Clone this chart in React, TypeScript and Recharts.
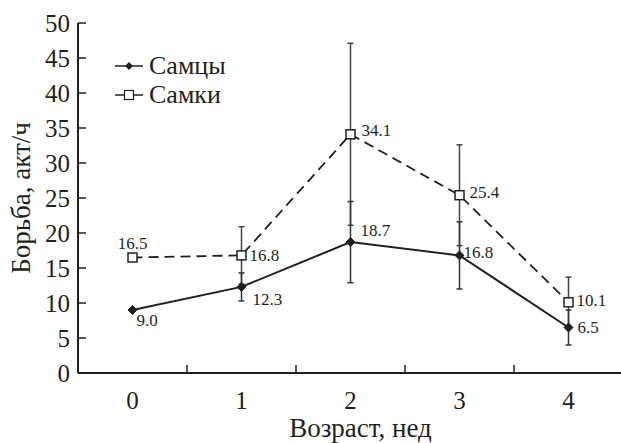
import React from 'react';
import { LineChart, Line, XAxis, YAxis, ErrorBar, LabelList, Label } from 'recharts';

const weeks = [0, 1, 2, 3, 4];
const malesValues = [9.0, 12.3, 18.7, 16.8, 6.5];
const malesErrors = [0, 2.0, 5.8, 4.8, 2.5];
const femalesValues = [16.5, 16.8, 34.1, 25.4, 10.1];
const femalesErrors = [0, 4.1, 13.0, 7.2, 3.6];
const yTicks = [0, 5, 10, 15, 20, 25, 30, 35, 40, 45, 50];
const xTicks = [0, 0.5, 1, 1.5, 2, 2.5, 3, 3.5, 4];
const seriesNames = ['Самцы', 'Самки'];
const xTitle = 'Возраст, нед';
const yTitle = 'Борьба, акт/ч';

const data = weeks.map((w, i) => ({
  week: w,
  males: malesValues[i],
  malesErr: malesErrors[i],
  females: femalesValues[i],
  femalesErr: femalesErrors[i],
}));

const FONT = 'Liberation Serif';
const INK = '#231f20';

// label placement (dx, dy, anchor) per point
const maleLabelPos: [number, number, string][] = [
  [4, 10, 'start'], [11, 13, 'start'], [10, -12, 'start'], [4, -3, 'start'], [9, 0, 'start'],
];
const femaleLabelPos: [number, number, string][] = [
  [0, -14, 'middle'], [8, 0, 'start'], [11, -4, 'start'], [10, -3, 'start'], [8, -2, 'start'],
];

const Diamond = (props: any) => {
  const { cx, cy } = props;
  if (cx == null || cy == null) return null;
  const r = 4.5;
  return <polygon points={`${cx},${cy - r} ${cx + r},${cy} ${cx},${cy + r} ${cx - r},${cy}`} fill={INK} stroke={INK} />;
};

const Square = (props: any) => {
  const { cx, cy } = props;
  if (cx == null || cy == null) return null;
  const s = 9;
  return <rect x={cx - s / 2} y={cy - s / 2} width={s} height={s} fill="#fff" stroke={INK} strokeWidth={1.5} />;
};

const XTick = (props: any) => {
  const { x, y, payload } = props;
  const v = payload.value;
  if (Number.isInteger(v)) {
    return (
      <text x={x} y={y + 27} textAnchor="middle" dominantBaseline="central" fontFamily={FONT} fontSize={25} fill={INK}>
        {v}
      </text>
    );
  }
  return <line x1={x} x2={x} y1={y} y2={y - 8} stroke={INK} strokeWidth={1.5} />;
};

const YTick = (props: any) => {
  const { x, y, payload } = props;
  return (
    <g>
      <line x1={x} x2={x + 8} y1={y} y2={y} stroke={INK} strokeWidth={1.5} />
      <text x={x - 8} y={y} textAnchor="end" dominantBaseline="central" fontFamily={FONT} fontSize={25} fill={INK}>
        {payload.value}
      </text>
    </g>
  );
};

const makeLabel = (pos: [number, number, string][]) => (props: any) => {
  const { x, y, value, index } = props;
  const [dx, dy, anchor] = pos[index];
  return (
    <text x={x + dx} y={y + dy} textAnchor={anchor as any} dominantBaseline="central" fontFamily={FONT} fontSize={17} fill={INK}>
      {Number(value).toFixed(1)}
    </text>
  );
};

const LegendBox = () => (
  <div style={{ position: 'absolute', left: 114, top: 52, fontFamily: FONT, fontSize: 26, color: INK, lineHeight: '28.5px' }}>
    {seriesNames.map((name, i) => (
      <div key={name} style={{ display: 'flex', alignItems: 'center', height: 28.5 }}>
        <svg width={30} height={16} style={{ marginRight: 5 }}>
          <line x1={1} x2={29} y1={8} y2={8} stroke={INK} strokeWidth={1.5} />
          {i === 0 ? (
            <polygon points="15,4 19,8 15,12 11,8" fill={INK} />
          ) : (
            <rect x={10.5} y={3.5} width={9} height={9} fill="#fff" stroke={INK} strokeWidth={1.2} />
          )}
        </svg>
        <span>{name}</span>
      </div>
    ))}
  </div>
);

export default function App() {
  return (
    <div style={{ position: 'absolute', left: 0, top: 0, width: 621, height: 443, overflow: 'hidden', background: '#fff' }}>
      <LineChart width={640} height={443} data={data} margin={{ top: 23, right: 17, left: 0, bottom: 0 }}>
        <XAxis
          dataKey="week"
          type="number"
          domain={[-0.5, 4.5]}
          ticks={xTicks}
          interval={0}
          tickSize={0}
          tickMargin={0}
          tickLine={false}
          tick={<XTick />}
          height={70}
          axisLine={{ stroke: INK, strokeWidth: 2 }}
        >
          <Label
            content={(p: any) => {
              const vb = p.viewBox;
              return (
                <text x={vb.x + vb.width / 2 + 10} y={vb.y + 55} textAnchor="middle" dominantBaseline="central" fontFamily={FONT} fontSize={27} fill={INK}>
                  {xTitle}
                </text>
              );
            }}
          />
        </XAxis>
        <YAxis
          type="number"
          domain={[0, 50]}
          ticks={yTicks}
          interval={0}
          width={78}
          tickSize={0}
          tickMargin={0}
          tickLine={false}
          tick={<YTick />}
          axisLine={{ stroke: INK, strokeWidth: 2 }}
        >
          <Label
            content={(p: any) => {
              const vb = p.viewBox;
              const cx = vb.x + 21;
              const cy = vb.y + vb.height / 2;
              return (
                <text x={cx} y={cy} transform={`rotate(-90 ${cx} ${cy})`} textAnchor="middle" dominantBaseline="central" fontFamily={FONT} fontSize={27} fill={INK}>
                  {yTitle}
                </text>
              );
            }}
          />
        </YAxis>
        <Line
          dataKey="females"
          name={seriesNames[1]}
          stroke={INK}
          strokeWidth={1.8}
          strokeDasharray="10 6"
          dot={<Square />}
          isAnimationActive={false}
        >
          <ErrorBar dataKey="femalesErr" direction="y" width={3} stroke="#444" strokeWidth={1.5} />
          <LabelList dataKey="females" content={makeLabel(femaleLabelPos)} />
        </Line>
        <Line
          dataKey="males"
          name={seriesNames[0]}
          stroke={INK}
          strokeWidth={2}
          dot={<Diamond />}
          isAnimationActive={false}
        >
          <ErrorBar dataKey="malesErr" direction="y" width={3} stroke="#333" strokeWidth={1.5} />
          <LabelList dataKey="males" content={makeLabel(maleLabelPos)} />
        </Line>
      </LineChart>
      <LegendBox />
    </div>
  );
}
